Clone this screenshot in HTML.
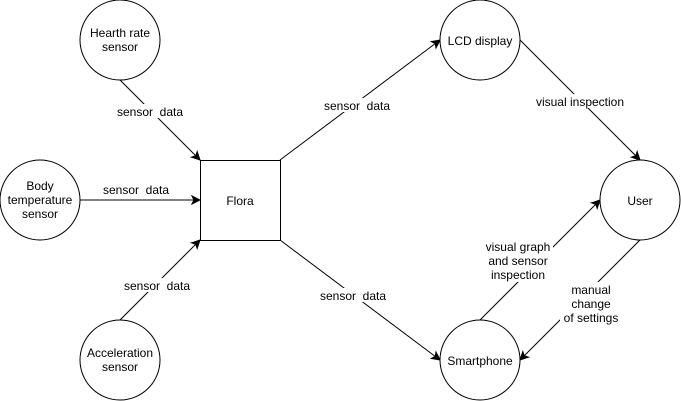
<!DOCTYPE html>
<html><head><meta charset="utf-8"><style>
html,body{margin:0;padding:0;background:#fff;}
svg{display:block;}
text{font-family:"Liberation Sans",sans-serif;font-size:12px;fill:#000;white-space:pre;}
</style></head><body>
<svg width="681" height="401" viewBox="0 0 681 401" xmlns="http://www.w3.org/2000/svg">
<defs>
<marker id="a" markerWidth="10" markerHeight="10" refX="9" refY="5" orient="auto" markerUnits="userSpaceOnUse">
<path d="M1,1 L9,5 L1,9 L3,5 Z" fill="#000" stroke="#000" stroke-width="1"/>
</marker>
</defs>
<g stroke="#000" stroke-width="1" fill="none">
<line x1="120" y1="80" x2="200" y2="160" marker-end="url(#a)"/>
<line x1="80" y1="200" x2="200" y2="200" marker-end="url(#a)"/>
<line x1="120" y1="320" x2="200" y2="240" marker-end="url(#a)"/>
<line x1="280" y1="160" x2="440" y2="40" marker-end="url(#a)"/>
<line x1="280" y1="240" x2="440" y2="360" marker-end="url(#a)"/>
<line x1="520" y1="40" x2="640" y2="160" marker-end="url(#a)"/>
<line x1="480" y1="320" x2="600" y2="200" marker-end="url(#a)"/>
<line x1="640" y1="240" x2="520" y2="360" marker-end="url(#a)"/>
</g>
<g stroke="#000" stroke-width="1" fill="#fff">
<circle cx="120" cy="40" r="40"/>
<circle cx="40" cy="200" r="40"/>
<circle cx="120" cy="360" r="40"/>
<rect x="200.5" y="160.5" width="80" height="80"/>
<circle cx="480" cy="40" r="40"/>
<circle cx="640" cy="200" r="40"/>
<circle cx="480" cy="360" r="40"/>
</g>
<g fill="#fff">
<rect x="108" y="104" width="86" height="14"/>
<rect x="96" y="182" width="80" height="14"/>
<rect x="116" y="278" width="82" height="14"/>
<rect x="316" y="98" width="82" height="14"/>
<rect x="312" y="288" width="82" height="14"/>
<rect x="530" y="94" width="100" height="14"/>
<rect x="483" y="238" width="70" height="44"/>
<rect x="560" y="282" width="60" height="42"/>
</g>
<g text-anchor="middle">
<text x="120" y="37">Hearth rate</text><text x="120" y="51">sensor</text>
<text x="40" y="190">Body</text><text x="40" y="204">temperature</text><text x="40" y="218">sensor</text>
<text x="120" y="357">Acceleration</text><text x="120" y="371">sensor</text>
<text x="240" y="205">Flora</text>
<text x="480" y="45">LCD display</text>
<text x="640" y="205">User</text>
<text x="480" y="365">Smartphone</text>
<text x="150" y="116">sensor&#160; data</text>
<text x="136" y="194">sensor&#160; data</text>
<text x="157" y="290">sensor&#160; data</text>
<text x="357" y="110">sensor&#160; data</text>
<text x="353" y="300">sensor&#160; data</text>
<text x="580" y="106">visual inspection</text>
<text x="518" y="251">visual graph</text><text x="518" y="265">and sensor</text><text x="518" y="279">inspection</text>
<text x="591" y="294">manual</text><text x="591" y="308">change</text><text x="591" y="322">of settings</text>
</g>
</svg>
</body></html>
